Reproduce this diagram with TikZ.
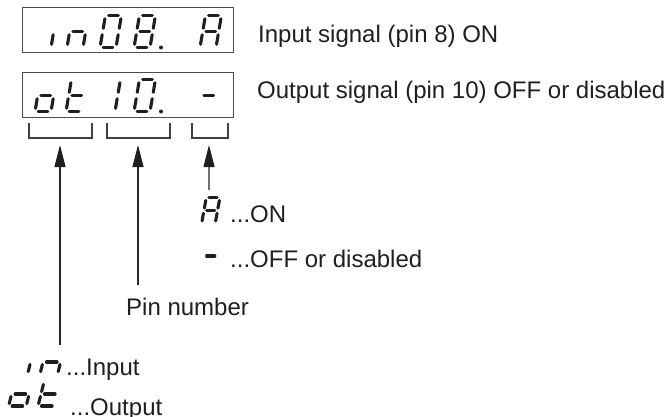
\documentclass[tikz,border=0pt]{standalone}
\usepackage{fontspec}
\setmainfont{Liberation Sans}
\usetikzlibrary{arrows.meta}
\tikzset{
  lcdbox/.style={draw=black!70, line width=1.2pt},
  segline/.style={line width=3.1pt, line cap=round, draw=black!88},
  bracketline/.style={draw=black!75, line width=1.2pt},
  pointer/.style={draw=black!85, line width=1.2pt, -{Triangle[width=11pt,length=22pt,color=black!88]}},
  graypointer/.style={pointer, draw=black!55},
  lbl/.style={anchor=base west, inner sep=0pt, font=\fontsize{24}{28}\selectfont, text=black!88},
}
% seven-segment glyph: #1 x, #2 baseline y (pixels, y downwards), #3 xscale, #4 yscale, #5 segments
\newcommand\lcdglyph[5]{%
  \begin{scope}[shift={(#1,-#2)}, xscale=#3, yscale=#4, xslant=0.17]
    \coordinate (a1) at (3.2,32);  \coordinate (a2) at (12.8,32);
    \coordinate (b1) at (16,28.8); \coordinate (b2) at (16,19.2);
    \coordinate (c1) at (16,12.8); \coordinate (c2) at (16,3.2);
    \coordinate (d1) at (3.2,0);   \coordinate (d2) at (12.8,0);
    \coordinate (e1) at (0,12.8);  \coordinate (e2) at (0,3.2);
    \coordinate (f1) at (0,28.8);  \coordinate (f2) at (0,19.2);
    \coordinate (g1) at (3.2,16);  \coordinate (g2) at (12.8,16);
    \foreach \s in {#5}{\draw[segline] (\s1) -- (\s2);}
  \end{scope}}
\newcommand\lcddot[2]{\fill[black!88] (#1,-#2) circle (2pt);}
\begin{document}
\begin{tikzpicture}[x=1pt,y=1pt]
\useasboundingbox (0,0) rectangle (668,-416);
% display boxes
\node[lcdbox, minimum width=211pt, minimum height=45pt, anchor=north west, inner sep=0pt] (disp1) at (22,-7) {};
\node[lcdbox, minimum width=211pt, minimum height=45pt, anchor=north west, inner sep=0pt] (disp2) at (22,-72) {};
% top display: in08. A
\lcdglyph{35}{47.5}{1}{1}{c}
\lcdglyph{67}{47.5}{1}{1}{c,e,g}
\lcdglyph{100}{47.5}{1}{1}{a,b,c,d,e,f}
\lcdglyph{134}{47.5}{1}{1}{a,b,c,d,e,f,g}
\lcddot{161}{47.5}
\lcdglyph{200}{47.5}{1}{1}{a,b,c,e,f,g}
% bottom display: ot 10. -
\lcdglyph{35}{111.5}{1}{1}{c,d,e,g}
\lcdglyph{66}{111.5}{1}{1}{d,e,f,g}
\lcdglyph{99}{111.5}{1}{1}{b,c}
\lcdglyph{134}{111.5}{1}{1}{a,b,c,d,e,f}
\lcddot{161}{111.5}
\lcdglyph{198}{111.5}{1}{1}{g}
% labels on the right
\node[lbl] (sig1) at (258,-42) {Input signal (pin 8) ON};
\node[lbl] (sig2) at (257,-98) {Output signal (pin 10) OFF or disabled};
% brackets
\draw[bracketline] (29,-123) -- (29,-138) -- (92,-138) -- (92,-123);
\draw[bracketline] (107,-123) -- (107,-138) -- (170,-138) -- (170,-123);
\draw[bracketline] (192,-123) -- (192,-138) -- (228,-138) -- (228,-123);
\coordinate (t1) at (60,-145);
\coordinate (t2) at (138,-145);
\coordinate (t3) at (209,-145);
\coordinate (s1) at (60,-345);
\coordinate (s2) at (138,-285);
\coordinate (s3) at (209,-190);
\draw[pointer] (s1) -- (t1);
\draw[pointer] (s2) -- (t2);
\draw[graypointer] (s3) -- (t3);
% legend for state
\lcdglyph{201.6}{223.5}{0.85}{0.8}{a,b,c,e,f,g}
\node[lbl] (onlbl) at (230,-222) {...ON};
\lcdglyph{201.6}{268.8}{0.85}{0.8}{g}
\node[lbl] (offlbl) at (230,-267) {...OFF or disabled};
\node[lbl] (pinlbl) at (126,-315) {Pin number};
% legend for direction
\lcdglyph{10}{374}{1.1}{0.75}{c}
\lcdglyph{40}{374}{1.1}{0.75}{c,e,g}
\node[lbl] (inlbl) at (66,-375) {...Input};
\lcdglyph{8.6}{406}{1.1}{0.75}{c,d,e,g}
\lcdglyph{38}{406}{1.1}{0.75}{d,e,f,g}
\node[lbl] (outlbl) at (70,-415) {...Output};
\end{tikzpicture}
\end{document}
